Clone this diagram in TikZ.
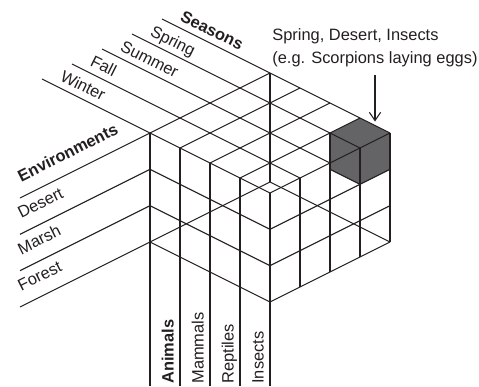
\documentclass[tikz,border=0pt]{standalone}
\usepackage{fontspec}
\setmainfont{Liberation Sans}
\usetikzlibrary{arrows.meta}
\definecolor{figline}{RGB}{35,31,32}
\definecolor{figshade}{RGB}{100,100,102}
\tikzset{
  gl/.style   ={draw=figline, line width=0.6pt},
  lab/.style  ={font=\fontsize{9.35}{13.2}\selectfont, text=figline, inner sep=0pt},
  labb/.style ={lab, font=\fontsize{9.35}{13.2}\selectfont\bfseries},
  ptr/.style  ={draw=figline, line width=0.6pt, -{Straight Barb[length=4.7pt,width=6.4pt]}},
}
\begin{document}
\begin{tikzpicture}[x=0.02cm,y=-0.02cm]
  \useasboundingbox (0,0) rectangle (479,386);
  % cube corners (top and bottom)
  \coordinate (T) at (270,73);
  \coordinate (L) at (150,133);
  \coordinate (R) at (390,133);
  \coordinate (F) at (270,193);
  \coordinate (Tb) at (270,182);
  \coordinate (Lb) at (150,242);
  \coordinate (Rb) at (390,242);
  \coordinate (Fb) at (270,302);
  % the picked cell
  \fill[figshade] (330,133) -- (360,118) -- (R) -- (390,169.3) -- (360,184.3) -- (330,169.3) -- cycle;
  % season lines, run on across the top
  \draw[gl] (42,79) -- (F);
  \draw[gl] (72,64) -- (300,178);
  \draw[gl] (102,49) -- (330,163);
  \draw[gl] (132,34) -- (360,148);
  \draw[gl] (162,19) -- (R);
  % top, other way
  \draw[gl] (180,148) -- (300,88);
  \draw[gl] (210,163) -- (330,103);
  \draw[gl] (240,178) -- (360,118);
  \draw[gl] (F) -- (R);
  % environment lines and left face rows
  \draw[gl] (20,198) -- (T);
  \draw[gl] (20,234.3) -- (150,169.3) -- (270,229.3);
  \draw[gl] (20,270.7) -- (150,205.7) -- (270,265.7);
  \draw[gl] (20,307) -- (Tb) -- (Rb);
  \draw[gl] (Lb) -- (Fb);
  \draw[gl] (T) -- (Tb);
  % animal lines
  \draw[gl] (L) -- (150,386);
  \draw[gl] (180,148) -- (180,386);
  \draw[gl] (210,163) -- (210,386);
  \draw[gl] (240,178) -- (240,386);
  \draw[gl] (F) -- (270,386);
  % right face
  \draw[gl] (300,178) -- (300,287);
  \draw[gl] (330,133) -- (330,272);
  \draw[gl] (360,148) -- (360,257);
  \draw[gl] (R) -- (Rb);
  \draw[gl] (270,229.3) -- (390,169.3);
  \draw[gl] (270,265.7) -- (390,205.7);
  \draw[gl] (Fb) -- (Rb);
  \draw[gl] (330,169.3) -- (360,184.3);
  % labels
  \node[labb,rotate=-26.57,anchor=base west] (seasons) at (179,20) {Seasons};
  \node[lab,rotate=-26.57,anchor=base west] (spring) at (149,35) {Spring};
  \node[lab,rotate=-26.57,anchor=base west] (summer) at (119,50) {Summer};
  \node[lab,rotate=-26.57,anchor=base west] (fall) at (89,65) {Fall};
  \node[lab,rotate=-26.57,anchor=base west] (winter) at (59,80) {Winter};
  \node[labb,rotate=26.57,anchor=base west] (envs) at (21,182.5) {Environments};
  \node[lab,rotate=26.57,anchor=base west] (desert) at (21,218.8) {Desert};
  \node[lab,rotate=26.57,anchor=base west] (marsh) at (21,255.2) {Marsh};
  \node[lab,rotate=26.57,anchor=base west] (forest) at (21,291.5) {Forest};
  \node[labb,rotate=90,anchor=base west] (animals) at (173.5,384) {Animals};
  \node[lab,rotate=90,anchor=base west] (mammals) at (203.5,384) {Mammals};
  \node[lab,rotate=90,anchor=base west] (reptiles) at (233.5,384) {Reptiles};
  \node[lab,rotate=90,anchor=base west] (insects) at (263.5,384) {Insects};
  \node[lab,anchor=north west,align=left] (note) at (272,28.2) {Spring, Desert, Insects\\(e.g. Scorpions laying eggs)};
  \coordinate (tail) at (375,75);
  \coordinate (tip) at (375,121.5);
  \draw[ptr] (tail) -- (tip);
\end{tikzpicture}
\end{document}
